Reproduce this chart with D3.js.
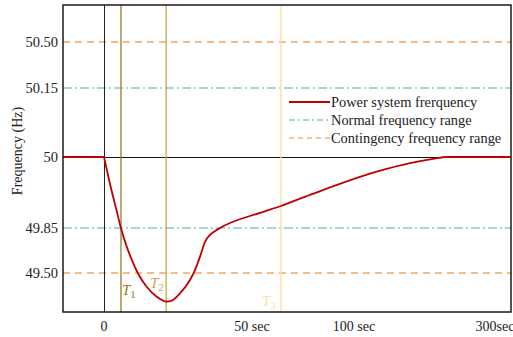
<!DOCTYPE html>
<html><head><meta charset="utf-8">
<script src="https://cdn.jsdelivr.net/npm/d3@7"></script>
<style>body{margin:0;background:#fff}</style>
</head><body><svg id="c" width="513" height="337" font-family="Liberation Serif, DejaVu Serif, serif"></svg>
<script>
// time (s) and frequency (Hz) of the power system response
const timeSec = [0, 2.03, 4.29, 5.74, 7.67, 9.90, 11.59, 14.42, 17.80, 21.18, 22.87, 25.67, 29.05, 30.74, 32.43, 34.12, 35.81, 38.61, 53.92, 63.73, 78.43, 132.2, 179.4, 212.1, 231.5, 340];
const freqHz  = [50, 49.943, 49.886, 49.848, 49.705, 49.575, 49.492, 49.393, 49.316, 49.277, 49.285, 49.342, 49.446, 49.523, 49.627, 49.743, 49.796, 49.842, 49.882, 49.896, 49.920, 49.969, 49.987, 49.996, 50, 50];
const preTime = [-15, 0];
const preFreq = [50, 50];
const yTicks = [50.5, 50.15, 50, 49.85, 49.5];
const yTickLabels = ["50.50", "50.15", "50", "49.85", "49.50"];
const xTicks = [0, 50, 100, 300];
const xTickLabels = ["0", "50 sec", "100 sec", "300sec"];
const normalRange = [50.15, 49.85];
const contingencyRange = [50.5, 49.5];
const markers = [{name:"T", sub:"1", t:5.74}, {name:"T", sub:"2", t:21.0}, {name:"T", sub:"3", t:64.2}];
const legendItems = ["Power system frerquency", "Normal frequency range", "Contingency frequency range"];

const svg = d3.select("#c");
const L = 63, R = 511, T = 5, B = 312;
const x = d3.scaleLinear().domain([-15, 0, 50, 100, 300, 340]).range([L, 104, 252, 354, 495, R]);
const y = d3.scaleLinear().domain([49.197, 49.5, 49.85, 50, 50.15, 50.5, 50.78]).range([B, 273, 228, 157, 88, 42, T]);

const cRed = "#c00000", cBlue = "#5aa7bb", cOrange = "#f5a665";
const mColors = ["#9a7a2c", "#cba547", "#fbe29b"];
const mLabelPos = [[122, 295], [150, 288], [262, 306]];

// range lines
contingencyRange.forEach(v => svg.append("line").attr("x1", L).attr("x2", R).attr("y1", y(v)).attr("y2", y(v))
  .attr("stroke", cOrange).attr("stroke-width", 1.5).attr("stroke-dasharray", "7,5"));
normalRange.forEach(v => svg.append("line").attr("x1", L).attr("x2", R).attr("y1", y(v)).attr("y2", y(v))
  .attr("stroke", cBlue).attr("stroke-width", 1.2).attr("stroke-dasharray", "9,3,2,3"));

// 50 Hz reference & t=0 lines
svg.append("line").attr("x1", L).attr("x2", R).attr("y1", y(50) + 0.5).attr("y2", y(50) + 0.5).attr("stroke", "#111").attr("stroke-width", 1);
svg.append("line").attr("x1", x(0) + 0.5).attr("x2", x(0) + 0.5).attr("y1", T).attr("y2", B).attr("stroke", "#222").attr("stroke-width", 1);

// marker lines
markers.forEach((m, i) => {
  svg.append("line").attr("x1", x(m.t)).attr("x2", x(m.t)).attr("y1", T).attr("y2", B)
    .attr("stroke", mColors[i]).attr("stroke-width", 1.3);
  const t = svg.append("text").attr("x", mLabelPos[i][0]).attr("y", mLabelPos[i][1])
    .attr("fill", mColors[i]).attr("font-size", 15).attr("font-style", "italic");
  t.append("tspan").text(m.name);
  t.append("tspan").attr("dy", 3).attr("font-size", 11).attr("font-style", "normal").text(m.sub);
});

// frequency curve
const flat = d3.line().x((d, i) => x(preTime[i])).y(d => y(d));
svg.append("path").attr("d", flat(preFreq)).attr("fill", "none").attr("stroke", cRed).attr("stroke-width", 2);
const line = d3.line().x((d, i) => x(timeSec[i])).y(d => y(d)).curve(d3.curveMonotoneX);
svg.append("path").attr("d", line(freqHz)).attr("fill", "none").attr("stroke", cRed).attr("stroke-width", 1.8);

// frame
svg.append("rect").attr("x", L).attr("y", T).attr("width", R - L).attr("height", B - T)
  .attr("fill", "none").attr("stroke", "#1a1a1a").attr("stroke-width", 1.5);

// y tick labels
yTicks.forEach((v, i) => svg.append("text").attr("x", 58).attr("y", y(v) + 5).attr("text-anchor", "end")
  .attr("font-size", 14.5).attr("fill", "#222").text(yTickLabels[i]));
// x tick labels
xTicks.forEach((v, i) => svg.append("text").attr("x", x(v)).attr("y", 331).attr("text-anchor", "middle")
  .attr("font-size", 14).attr("fill", "#222").text(xTickLabels[i]));

svg.append("text").attr("transform", `translate(22,${y(50) - 6}) rotate(-90)`).attr("text-anchor", "middle")
  .attr("font-size", 14).attr("fill", "#222").text("Frequency (Hz)");

// legend
const lg = svg.append("g");
const lgStyles = [{c: cRed, d: null, w: 1.8}, {c: cBlue, d: "6,3,2,3", w: 1.2}, {c: "#f08a30", d: "5,4", w: 1.2}];
legendItems.forEach((s, i) => {
  const yy = 102 + i * 18;
  lg.append("line").attr("x1", 289).attr("x2", 330).attr("y1", yy).attr("y2", yy)
    .attr("stroke", lgStyles[i].c).attr("stroke-width", lgStyles[i].w).attr("stroke-dasharray", lgStyles[i].d);
  lg.append("text").attr("x", 331).attr("y", yy + 5).attr("font-size", 14.4).attr("fill", "#222").text(s);
});
</script></body></html>
